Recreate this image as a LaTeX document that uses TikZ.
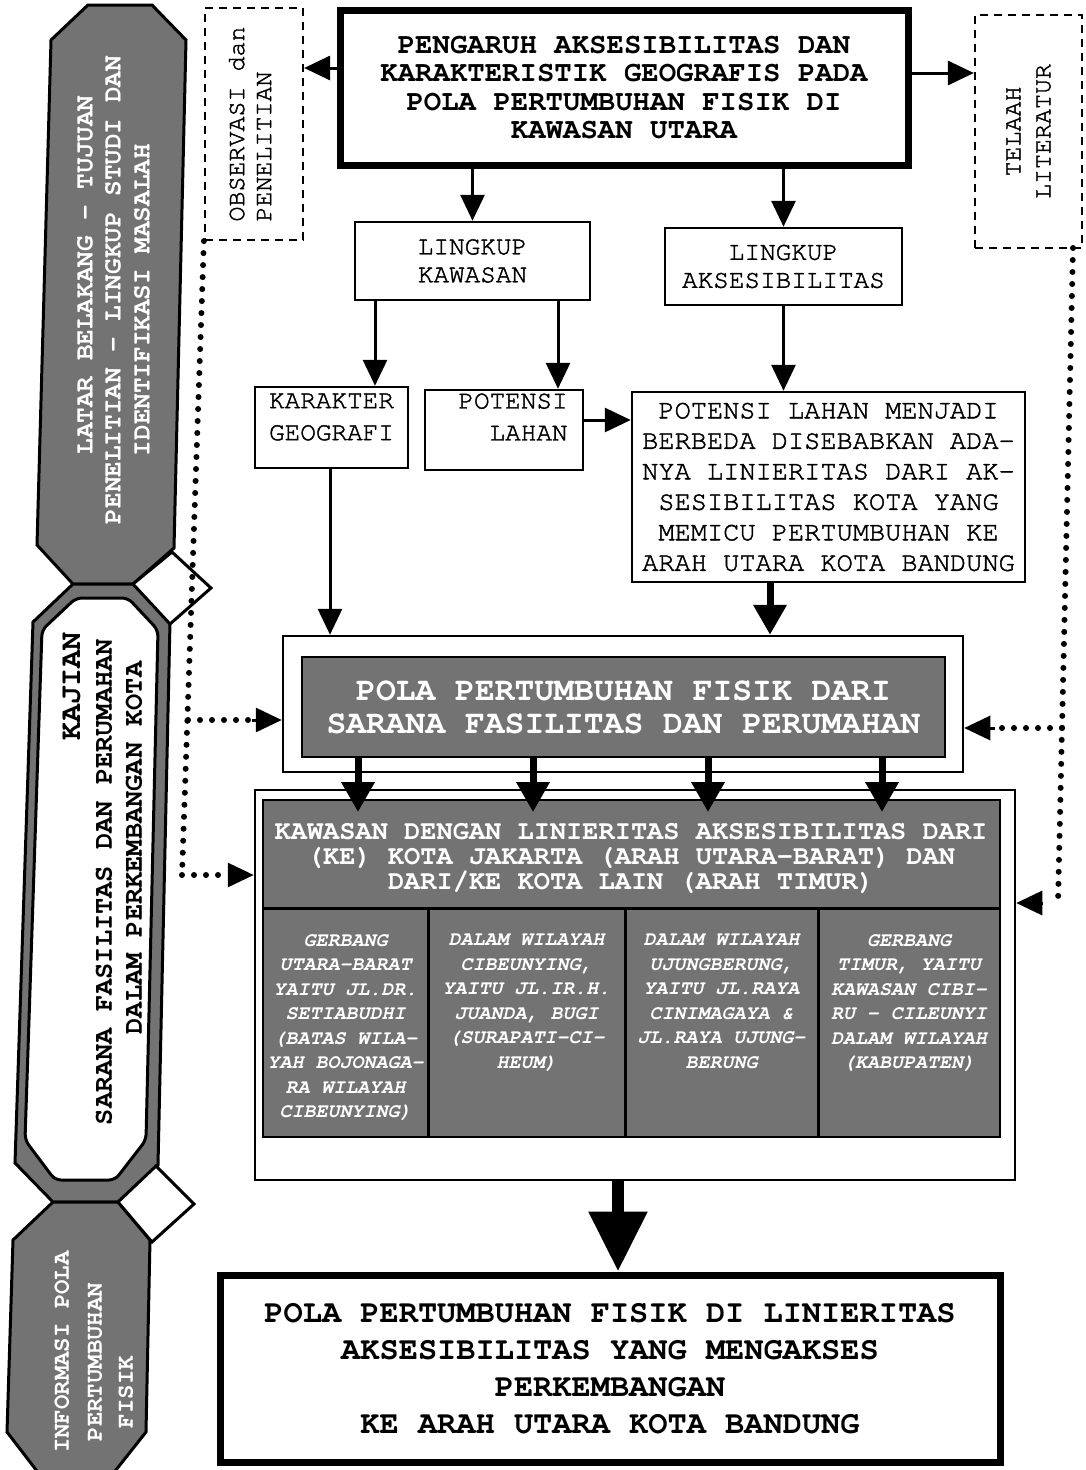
\documentclass[tikz,border=0pt]{standalone}
\usepackage{fontspec}
\setmainfont{texgyrecursor}[Extension=.otf,UprightFont=*-regular,BoldFont=*-bold,ItalicFont=*-italic,BoldItalicFont=*-bolditalic]
\newfontfamily\medfont{texgyrecursor}[Extension=.otf,UprightFont=*-regular,FakeBold=1.6]
\usetikzlibrary{arrows.meta,calc}
\newcommand\fz[2]{\fontsize{#1}{#2}\selectfont}
\begin{document}
\begin{tikzpicture}[x=1pt,y=-1pt,
  box/.style={draw,line width=2.5pt,fill=white,inner sep=0pt},
  heavybox/.style={draw,line width=7pt,fill=white,inner sep=0pt},
  dashbox/.style={draw,line width=2.2pt,dash pattern=on 8pt off 6pt,inner sep=0pt},
  darkbox/.style={draw,line width=2.5pt,fill=black!55,inner sep=0pt},
  txt/.style={align=center,inner sep=0pt},
  darktxt/.style={align=center,inner sep=0pt,text=white},
  arr/.style={line width=3pt,-{Triangle[length=26pt,width=24pt]}},
  harr/.style={line width=7pt,-{Triangle[length=30pt,width=32pt]}},
  bigarr/.style={line width=12pt,-{Triangle[length=60pt,width=56pt]}},
  dotline/.style={line width=6pt,line cap=round,dash pattern=on 0pt off 12pt},
  sideshape/.style={draw,line width=3pt,fill=black!55,line join=miter},
  diam/.style={draw,line width=3pt,fill=white},
  sidetxt/.style={rotate=90,text=white,font=\bfseries\fz{26}{28},inner sep=0pt},
  midtxt/.style={rotate=90,font=\bfseries\fz{27}{30},inner sep=0pt},
]
\useasboundingbox (0,0) rectangle (1086,1470);
\fill[white] (0,0) rectangle (1086,1470);

% ---------- left sidebar ----------
\draw[sideshape] (88,5)--(152,5)--(186,40)--(174,548)--(133,584)--(73,584)--(37,545)--(51,40)--cycle;
\draw[sideshape] (73,584)--(133,584)--(170,622)--(158,1165)--(118,1202)--(53,1202)--(15,1163)--(33,622)--cycle;
\draw[sideshape] (53,1202)--(118,1202)--(150,1240)--(146,1432)--(112,1475)--(40,1475)--(7,1432)--(13,1240)--cycle;
\draw[line width=3pt,fill=white,rounded corners=6pt] (76,598)--(128,598)--(158,630)--(146,1140)--(115,1180)--(55,1180)--(25,1140)--(42,630)--cycle;
\draw[diam] (172,552)--(211,588)--(170,624)--(133,584)--cycle;
\draw[diam] (156,1166)--(194,1204)--(152,1242)--(118,1202)--cycle;

\node[sidetxt] (s1) at (85,275) {LATAR BELAKANG - TUJUAN};
\node[sidetxt] (s2) at (113,290) {PENELITIAN - LINGKUP STUDI DAN};
\node[sidetxt] (s3) at (142,300) {IDENTIFIKASI MASALAH};

\node[midtxt,font=\bfseries\fz{30}{32}] (m1) at (72,686) {KAJIAN};
\node[midtxt] (m2) at (104,882) {SARANA FASILITAS DAN PERUMAHAN};
\node[midtxt] (m3) at (134,848) {DALAM PERKEMBANGAN KOTA};

\node[sidetxt,font=\bfseries\fz{24}{26}] (b1) at (62,1352) {INFORMASI POLA};
\node[sidetxt,font=\bfseries\fz{24}{26}] (b2) at (95,1362) {PERTUMBUHAN};
\node[sidetxt,font=\bfseries\fz{24}{26}] (b3) at (126,1392) {FISIK};

% ---------- top row ----------
\node[heavybox,minimum width=568,minimum height=155,align=center,font=\bfseries\fz{29}{28.5}] (top) at (624,87.5)
  {PENGARUH AKSESIBILITAS DAN\\KARAKTERISTIK GEOGRAFIS PADA\\POLA PERTUMBUHAN FISIK DI\\KAWASAN UTARA};
\node[dashbox,minimum width=98,minimum height=232] (obs) at (254,124) {};
\node[txt,rotate=90,align=left,font=\medfont\fz{25}{27}] (obst) at (250,124) {OBSERVASI dan\\PENELITIAN};
\node[dashbox,minimum width=107,minimum height=233] (tel) at (1028.5,131.5) {};
\node[txt,rotate=90,font=\medfont\fz{25}{30}] (telt) at (tel.center) {TELAAH\\LITERATUR};

\coordinate (y68) at (0,68);
\coordinate (y73) at (0,73);
\draw[arr] (top.west |- y68) -- (obs.east |- y68);
\draw[arr] (top.east |- y73) -- (tel.west |- y73);

% ---------- second row ----------
\node[box,minimum width=235,minimum height=78,align=center,font=\medfont\fz{26}{28}] (lk) at (472.5,261) {LINGKUP\\KAWASAN};
\node[box,minimum width=237,minimum height=77,align=center,font=\medfont\fz{26}{28}] (la) at (783.5,266.5) {LINGKUP\\AKSESIBILITAS};
\draw[arr] (top.south -| lk.north) -- (lk.north);
\draw[arr] (top.south -| la.north) -- (la.north);

% ---------- third row ----------
\node[box,minimum width=153,minimum height=81] (kar) at (331.5,427.5) {};
\node[txt,font=\medfont\fz{26}{32}] (kart) at (331.5,417) {KARAKTER\\GEOGRAFI};
\node[box,minimum width=158,minimum height=80] (pot) at (504,430) {};
\node[txt,align=right,font=\medfont\fz{26}{32}] (pott) at (513,417) {POTENSI\\LAHAN};
\node[box,minimum width=393,minimum height=190,align=center,font=\medfont\fz{27}{30.5}] (big) at (828.5,487)
  {POTENSI LAHAN MENJADI\\BERBEDA DISEBABKAN ADA-\\NYA LINIERITAS DARI AK-\\SESIBILITAS KOTA YANG\\MEMICU PERTUMBUHAN KE\\ARAH UTARA KOTA BANDUNG};

\coordinate (k1) at (375,0);
\coordinate (k2) at (558,0);
\coordinate (k3) at (0,420);
\draw[arr] (lk.south -| k1) -- (kar.north -| k1);
\draw[arr] (lk.south -| k2) -- (pot.north -| k2);
\draw[arr] (la.south) -- (big.north -| la.south);
\draw[arr] (pot.east |- k3) -- (big.west |- k3);

% ---------- POLA frame ----------
\node[box,minimum width=680,minimum height=136] (polaf) at (623,704) {};
\node[darkbox,minimum width=643,minimum height=100] (polain) at (623.5,707) {};
\node[darktxt,font=\bfseries\fz{33}{33}] (polat) at (polain.center) {POLA PERTUMBUHAN FISIK DARI\\SARANA FASILITAS DAN PERUMAHAN};

\coordinate (k4) at (330,0);
\coordinate (k5) at (770,0);
\draw[arr] (kar.south -| k4) -- (polaf.north -| k4);
\draw[harr] (big.south -| k5) -- (polaf.north -| k5);

% ---------- KAWASAN frame ----------
\node[box,minimum width=760,minimum height=390] (kwf) at (635,985) {};
\node[darkbox,minimum width=737,minimum height=337] (kwin) at (631.5,968.5) {};
\coordinate (hs) at (0,908);
\coordinate (cA) at (428,0);
\coordinate (cB) at (625,0);
\coordinate (cC) at (818,0);
\draw[line width=3pt] (kwin.west |- hs) -- (kwin.east |- hs);
\draw[line width=3pt] (hs -| cA) -- (kwin.south -| cA);
\draw[line width=3pt] (hs -| cB) -- (kwin.south -| cB);
\draw[line width=3pt] (hs -| cC) -- (kwin.south -| cC);
\node[darktxt,font=\bfseries\fz{27}{25}] (kwh) at (631,858)
  {KAWASAN DENGAN LINIERITAS AKSESIBILITAS DARI\\(KE) KOTA JAKARTA (ARAH UTARA-BARAT) DAN\\DARI/KE KOTA LAIN (ARAH TIMUR)};
\node[darktxt,anchor=north,font=\bfseries\itshape\fz{20}{24.5}] (col1) at (345.5,934)
  {GERBANG\\UTARA-BARAT\\YAITU JL.DR.\\SETIABUDHI\\(BATAS WILA-\\YAH BOJONAGA-\\RA WILAYAH\\CIBEUNYING)};
\node[darktxt,anchor=north,font=\bfseries\itshape\fz{20}{24.5}] (col2) at (526.5,934)
  {DALAM WILAYAH\\CIBEUNYING,\\YAITU JL.IR.H.\\JUANDA, BUGI\\(SURAPATI-CI-\\HEUM)};
\node[darktxt,anchor=north,font=\bfseries\itshape\fz{20}{24.5}] (col3) at (721.5,934)
  {DALAM WILAYAH\\UJUNGBERUNG,\\YAITU JL.RAYA\\CINIMAGAYA \&\\JL.RAYA UJUNG-\\BERUNG};
\node[darktxt,anchor=north,font=\bfseries\itshape\fz{20}{24.5}] (col4) at (909,934)
  {GERBANG\\TIMUR, YAITU\\KAWASAN CIBI-\\RU - CILEUNYI\\DALAM WILAYAH\\(KABUPATEN)};

\coordinate (a1) at (358,812);
\coordinate (a2) at (533,812);
\coordinate (a3) at (708,812);
\coordinate (a4) at (882,812);
\draw[harr] (polain.south -| a1) -- (a1);
\draw[harr] (polain.south -| a2) -- (a2);
\draw[harr] (polain.south -| a3) -- (a3);
\draw[harr] (polain.south -| a4) -- (a4);

% ---------- bottom box ----------
\node[heavybox,minimum width=780,minimum height=187,align=center,font=\bfseries\fz{32}{37}] (bot) at (610,1368.5)
  {POLA PERTUMBUHAN FISIK DI LINIERITAS\\AKSESIBILITAS YANG MENGAKSES\\PERKEMBANGAN\\KE ARAH UTARA KOTA BANDUNG};
\coordinate (k6) at (618,0);
\draw[bigarr] (kwf.south -| k6) -- (bot.north -| k6);

% ---------- dotted feedback lines ----------
\coordinate (dlm) at (188,720);
\coordinate (dlb) at (182,875);
\coordinate (dlm2) at (252,720);
\coordinate (dlb2) at (228,875);
\draw[dotline] (obs.south west) -- (dlb);
\draw[dotline] (dlm) -- (dlm2);
\draw[dotline] (dlb) -- (dlb2);
\draw[arr] (dlm2) -- (polaf.west |- dlm2);
\draw[arr] (dlb2) -- (kwf.west |- dlb2);

\coordinate (drt) at (1073,248);
\coordinate (drm) at (1062,728);
\coordinate (drb) at (1058,903);
\coordinate (drm2) at (995,728);
\coordinate (drb2) at (1042,903);
\draw[dotline] (drt) -- (drb);
\draw[dotline] (drm) -- (drm2);
\draw[arr] (drm2) -- (polaf.east |- drm2);
\draw[arr] (drb2) -- (kwf.east |- drb2);
\end{tikzpicture}
\end{document}
